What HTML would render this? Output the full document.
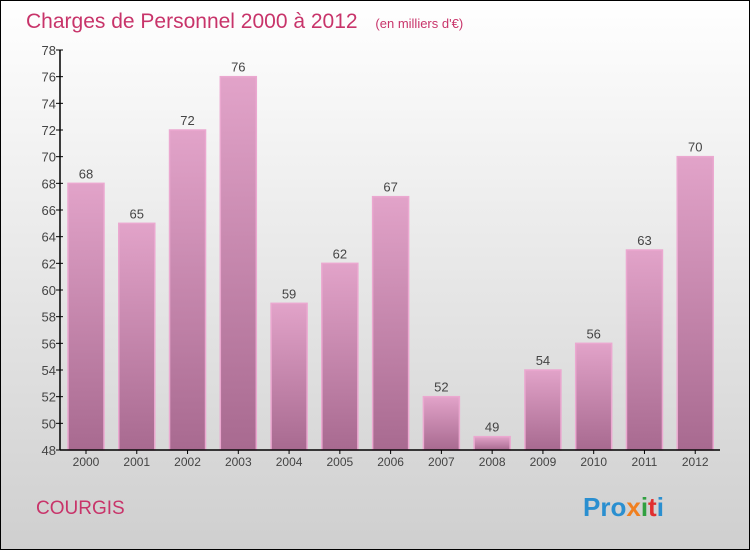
<!DOCTYPE html>
<html><head><meta charset="utf-8"><style>
body{margin:0;width:750px;height:550px;overflow:hidden;font-family:"Liberation Sans",sans-serif}
</style></head><body>
<svg width="750" height="550" xmlns="http://www.w3.org/2000/svg">
<defs>
<linearGradient id="bg" x1="0" y1="0" x2="0" y2="1"><stop offset="0" stop-color="#ffffff"/><stop offset="1" stop-color="#cfcfcf"/></linearGradient>
<linearGradient id="bar" x1="0" y1="0" x2="0" y2="1"><stop offset="0" stop-color="#e2a3c9"/><stop offset="1" stop-color="#a86a90"/></linearGradient>
</defs>
<rect x="0.5" y="0.5" width="749" height="549" fill="url(#bg)" stroke="#000"/>
<text x="26" y="28" font-size="21" fill="#c8346a">Charges de Personnel 2000 à 2012 <tspan font-size="13" dx="12">(en milliers d'€)</tspan></text>
<g id="plot"></g>
<text x="36" y="514" font-size="19" fill="#c8346a">COURGIS</text>
<text x="583" y="516" font-size="26" font-weight="bold"><tspan fill="#2a8fd0">Pro</tspan><tspan fill="#f08020">x</tspan><tspan fill="#30a040">i</tspan><tspan fill="#e03030">t</tspan><tspan fill="#2a8fd0">i</tspan></text>
</svg>
<script>
const years=["2000","2001","2002","2003","2004","2005","2006","2007","2008","2009","2010","2011","2012"];
const values=[68,65,72,76,59,62,67,52,49,54,56,63,70];
const yTicks=[48,50,52,54,56,58,60,62,64,66,68,70,72,74,76,78];
const NS="http://www.w3.org/2000/svg";
const g=document.getElementById('plot');
const x0=60,x1=720,yTop=50,yBot=450,ymin=48,ymax=78;
const band=(x1-x0)/years.length;
const y=v=>yBot-(v-ymin)/(ymax-ymin)*(yBot-yTop);
function el(t,a){const e=document.createElementNS(NS,t);for(const k in a)e.setAttribute(k,a[k]);g.appendChild(e);return e;}
yTicks.forEach(t=>{
 const l=el('line',{x1:x0-4,x2:x0+3,y1:y(t),y2:y(t),stroke:'#000'});
 
 
 const tx=el('text',{x:x0-4,y:y(t)+5,'text-anchor':'end','font-size':'13',fill:'#444'});
 tx.textContent=t;
 
 
});
years.forEach((yr,i)=>{
 const bx=x0+i*band+8,bw=36,top=y(values[i]);
 const r=el('rect',{x:bx,y:top,width:bw,height:yBot-top,fill:'url(#bar)',stroke:'#eba8d0','stroke-width':'1.5'});
 
 
 const v=el('text',{x:bx+bw/2,y:top-5,'text-anchor':'middle','font-size':'13',fill:'#444'});
 v.textContent=values[i];
 
 
 const tk=el('line',{x1:bx+bw/2,x2:bx+bw/2,y1:yBot,y2:yBot+4,stroke:'#000'});
 
 
 const xl=el('text',{x:bx+bw/2,y:yBot+16,'text-anchor':'middle','font-size':'12',fill:'#444'});
 xl.textContent=yr;
 
 
});
const ya=el('line',{x1:x0,x2:x0,y1:yTop,y2:yBot,stroke:'#000','stroke-width':'1.5'});


const xa=el('line',{x1:x0,x2:x1,y1:yBot,y2:yBot,stroke:'#000','stroke-width':'1.5'});


</script>
</body></html>
